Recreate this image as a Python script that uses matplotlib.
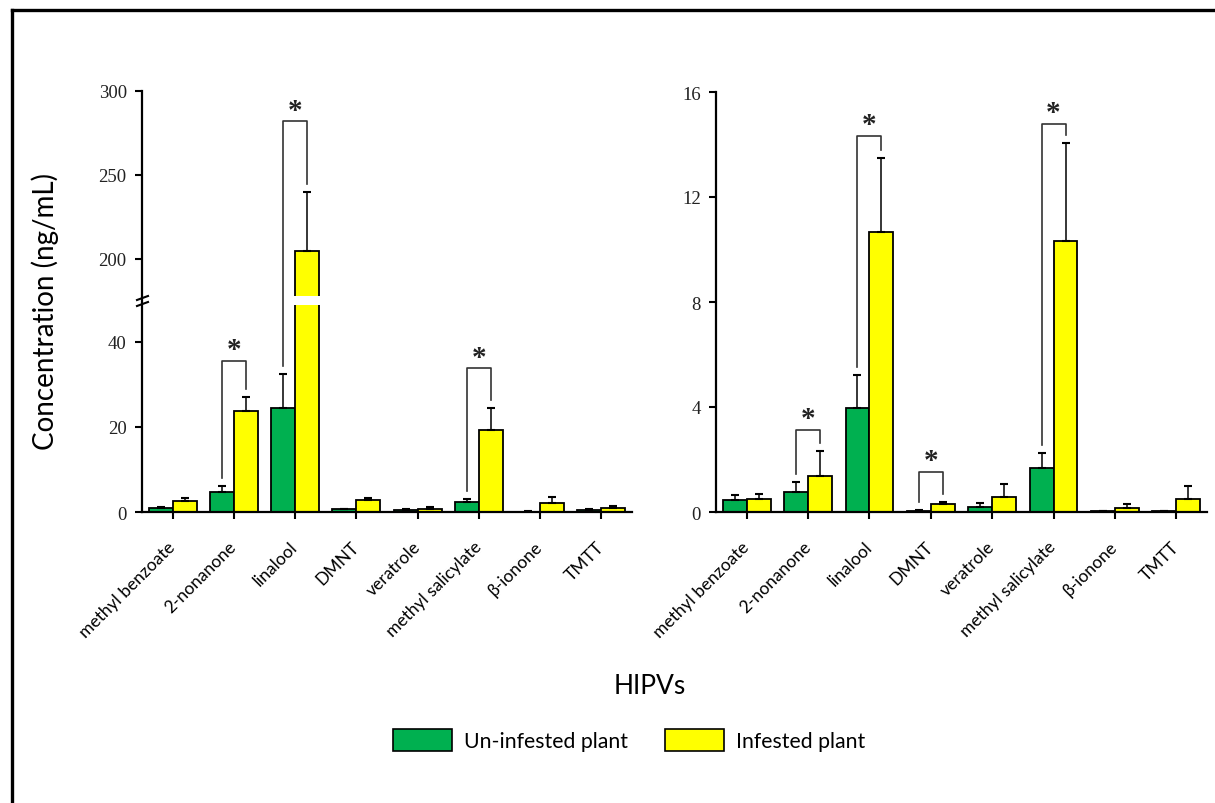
import numpy as np
import matplotlib.pyplot as plt
from matplotlib.patches import Patch
from matplotlib.lines import Line2D

compounds = ['methyl benzoate', '2-nonanone', 'linalool', 'DMNT', 'veratrole',
             'methyl salicylate', 'β-ionone', 'TMTT']

# left panel (broken y axis)
left_un = [0.9, 4.6, 24.4, 0.6, 0.4, 2.4, 0.1, 0.5]
left_un_err = [0.3, 1.6, 8.1, 0.2, 0.3, 0.6, 0.1, 0.2]
left_inf = [2.7, 23.8, 204.6, 2.75, 0.8, 19.2, 2.1, 1.0]
left_inf_err = [0.5, 3.3, 35.4, 0.55, 0.3, 5.3, 1.4, 0.4]
left_sig = [1, 2, 5]
left_bracket_top = [35.6, 282, 33.8]

# right panel
right_un = [0.46, 0.75, 3.97, 0.05, 0.2, 1.68, 0.02, 0.02]
right_un_err = [0.17, 0.38, 1.24, 0.02, 0.15, 0.55, 0.0, 0.0]
right_inf = [0.5, 1.36, 10.66, 0.32, 0.56, 10.34, 0.16, 0.51]
right_inf_err = [0.2, 0.96, 2.83, 0.07, 0.49, 3.7, 0.13, 0.47]
right_sig = [1, 2, 3, 5]
right_bracket_top = [3.14, 14.32, 1.53, 14.8]

GREEN = '#00b050'
YELLOW = '#ffff00'
W, H = 1215, 804


def box(x0, y0, x1, y1):
    # pixel box -> figure fraction
    return [x0 / W, 1 - y1 / H, (x1 - x0) / W, (y1 - y0) / H]


def fpt(x, y):
    return x / W, 1 - y / H


fig = plt.figure(figsize=(W / 100, H / 100), dpi=100)
ax1 = fig.add_axes(box(142, 92, 632, 513))
ax2 = fig.add_axes(box(716, 93, 1207, 513))

# piecewise scale: 0-50 stretched, 177-300 compressed
V = np.array([-100, 0, 49.5, 177, 300, 1000])
P = np.array([-425, 0, 210.4, 214.4, 421, 421 + 700 * 1.68])
ax1.set_yscale('function', functions=(lambda v: np.interp(v, V, P),
                                      lambda p: np.interp(p, P, V)))

x = np.arange(len(compounds))
w = 0.39


def draw_panel(ax, un, un_err, inf, inf_err, sig, tops):
    n = len(un)
    ax.bar(x - w / 2, un, w, color=GREEN, edgecolor='black', linewidth=1.3, zorder=2)
    ax.bar(x + w / 2, inf, w, color=YELLOW, edgecolor='black', linewidth=1.3, zorder=2)
    for xs, v, e in [(x - w / 2, un, un_err), (x + w / 2, inf, inf_err)]:
        ax.errorbar(xs, v, yerr=[np.zeros(n), e], fmt='none', ecolor='black',
                    elinewidth=1.1, capsize=3.2, capthick=1.5, zorder=3)
    # significance brackets, legs start a few pixels above the error caps
    fig.canvas.draw()
    to_disp = ax.transData
    to_data = ax.transData.inverted()
    for i, top in zip(sig, tops):
        xl, xr = i - w / 2, i + w / 2
        yl = to_data.transform(to_disp.transform((xl, un[i] + un_err[i])) + [0, 8])[1]
        yr = to_data.transform(to_disp.transform((xr, inf[i] + inf_err[i])) + [0, 8])[1]
        ax.plot([xl, xl, xr, xr], [yl, top, top, yr], color='#333333', lw=1.2,
                zorder=3, clip_on=False)
        ax.annotate('*', (i, top), xytext=(0, 8), textcoords='offset points',
                    ha='center', va='center', fontsize=21, fontweight='bold',
                    family='Liberation Serif', color='#222222')

    for s in ['top', 'right']:
        ax.spines[s].set_visible(False)
    for s in ['left', 'bottom']:
        ax.spines[s].set_linewidth(1.6)
    ax.set_xlim(-0.5, 7.5)
    ax.set_xticks(x)
    ax.set_xticklabels(compounds, rotation=45, ha='right', va='center',
                       rotation_mode='anchor', family='Lato', fontsize=12.5)
    ax.tick_params(axis='x', direction='out', length=5, width=1.5, pad=18)
    ax.tick_params(axis='y', direction='out', length=5, width=1.5, pad=6,
                   labelsize=13.5, labelcolor='#222222')


ax1.set_ylim(0, 300)
ax1.set_yticks([0, 20, 40, 200, 250, 300])
ax2.set_ylim(0, 16)
ax2.set_yticks([0, 4, 8, 12, 16])

draw_panel(ax1, left_un, left_un_err, left_inf, left_inf_err, left_sig, left_bracket_top)
draw_panel(ax2, right_un, right_un_err, right_inf, right_inf_err, right_sig, right_bracket_top)
for lab in ax1.get_yticklabels() + ax2.get_yticklabels():
    lab.set_family('Liberation Serif')

# gap across the tall linalool bar where the axis is broken
ax1.bar(2 + w / 2, 178 - 48.7, w * 1.15, bottom=48.7, color='white', linewidth=0, zorder=4)

# break marks on the left y axis
for dy in (-3, 3):
    fig.add_artist(Line2D([fpt(137, 0)[0], fpt(148, 0)[0]],
                          [fpt(0, 302 + dy + 2)[1], fpt(0, 302 + dy - 2)[1]],
                          color='black', lw=1.5))

fig.text(*fpt(45, 312), 'Concentration (ng/mL)', rotation=90, ha='center', va='center',
         fontsize=20, family='Lato')
fig.text(*fpt(650, 687), 'HIPVs', ha='center', va='center', fontsize=19, family='Lato')

handles = [Patch(facecolor=GREEN, edgecolor='black', linewidth=1.2),
           Patch(facecolor=YELLOW, edgecolor='black', linewidth=1.2)]
fig.legend(handles, ['Un-infested plant', 'Infested plant'], loc='center',
           bbox_to_anchor=fpt(629, 741), ncol=2, frameon=False,
           prop={'family': 'Lato', 'size': 15.3}, handlelength=2.8, handleheight=1.25,
           handletextpad=0.55, columnspacing=1.75)

# outer frame (left and top edges)
fig.add_artist(Line2D([fpt(12, 0)[0], fpt(12, 0)[0]], [0, fpt(0, 11)[1]], color='black', lw=2.4))
fig.add_artist(Line2D([fpt(12, 0)[0], 1], [fpt(0, 11)[1], fpt(0, 11)[1]], color='black', lw=2.4))

fig.savefig('out.png', dpi=100)
